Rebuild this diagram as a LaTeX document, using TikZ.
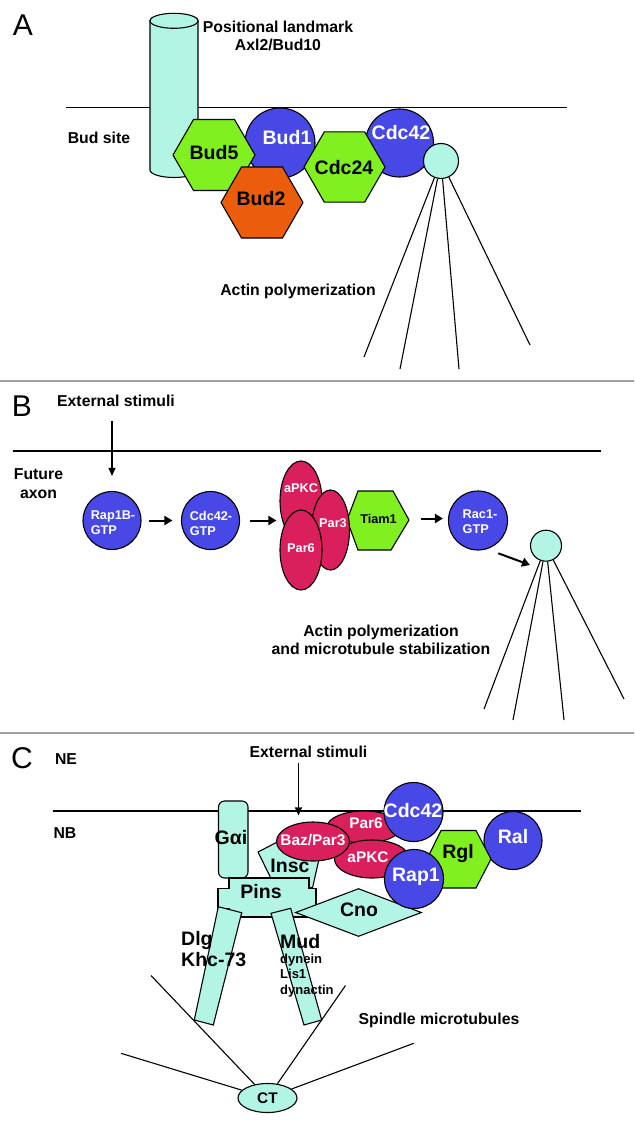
\documentclass[tikz,border=0pt]{standalone}
\usepackage{fontspec}
\setmainfont{Liberation Sans}
\usetikzlibrary{shapes.geometric,arrows.meta}
\definecolor{aqua}{RGB}{178,245,228}
\definecolor{myblue}{RGB}{72,72,230}
\definecolor{mygreen}{RGB}{128,240,32}
\definecolor{myorange}{RGB}{235,92,12}
\definecolor{mycrim}{RGB}{218,32,92}
\definecolor{sepgray}{RGB}{160,160,160}
\newcommand{\fsz}[2]{\fontsize{#1pt}{#2pt}\selectfont}
\begin{document}
\begin{tikzpicture}[x=1pt,y=1pt,
  shp/.style={draw=black, line width=1.1pt},
  bluec/.style={shp, circle, fill=myblue, inner sep=0pt},
  hexa/.style={shp, regular polygon, regular polygon sides=6, inner sep=0pt},
  ell/.style={shp, ellipse, fill=mycrim, inner sep=0pt},
  lab/.style={font=\bfseries\fsz{15.8}{18.3}, align=center, inner sep=0pt},
  big/.style={font=\bfseries\fsz{19.5}{21.5}, inner sep=0pt},
  mid/.style={font=\bfseries\fsz{15.4}{17}, inner sep=0pt},
  sml/.style={font=\bfseries\fsz{12.7}{15}, inner sep=0pt, align=left},
  panel/.style={font=\fsz{30}{30}, inner sep=0pt},
  wt/.style={text=white},
  arr/.style={-{Triangle[length=8pt,width=7pt]}, line width=1.2pt},
  barr/.style={-{Triangle[length=8pt,width=9pt]}, line width=2pt},
  mem/.style={line width=1.2pt},
  sepl/.style={draw=sepgray, line width=1.5pt},
  fil/.style={line width=1.1pt}]
\useasboundingbox (0,0) rectangle (634,-1126);
\fill[white] (0,0) rectangle (634,-1126);

% ================= Panel A =================
\node[panel] (labA) at (23,-25) {A};
\draw[mem] (66,-107.7) -- (567,-107.7);
\draw[shp, fill=aqua] (150,-20.8) -- (150,-170)
   arc[start angle=180, end angle=360, x radius=24pt, y radius=7.5pt]
   -- (198,-20.8) -- cycle;
\draw[shp, fill=aqua] (174,-20.8) ellipse[x radius=24pt, y radius=7.5pt];
\node[lab] (posA) at (278,-36) {Positional landmark\\Axl2/Bud10};
\node[lab] (budsite) at (99,-138) {Bud site};

\node[bluec, minimum size=70pt] (bud1) at (280,-143) {};
\node[bluec, minimum size=68pt] (cdc42a) at (399.5,-143) {};
\node[hexa, fill=mygreen, minimum size=82pt] (bud5) at (214,-155) {};
\node[hexa, fill=myorange, minimum size=82pt] (bud2) at (262,-202.5) {};
\node[hexa, fill=mygreen, minimum size=81pt] (cdc24) at (344.5,-167) {};
\node[shp, circle, fill=aqua, inner sep=0pt, minimum size=35pt] (mtA) at (441,-161) {};

\node[big] (tbud5) at (214,-153) {Bud5};
\node[big, wt] (tbud1) at (287,-138) {Bud1};
\node[big] (tbud2) at (261,-199) {Bud2};
\node[big] (tcdc24) at (344,-168) {Cdc24};
\node[big, wt] (tcdc42a) at (401,-133) {Cdc42};

\coordinate (a1) at (364,-357);
\coordinate (a2) at (400,-369);
\coordinate (a3) at (459,-369);
\coordinate (a4) at (530,-345);
\foreach \p in {a1,a2,a3,a4} \draw[fil] (mtA) -- (\p);
\node[lab] (actA) at (298,-291) {Actin polymerization};

\draw[sepl] (0,-381) -- (634,-381);

% ================= Panel B =================
\node[panel] (labB) at (22,-406) {B};
\node[lab] (extB) at (116,-401) {External stimuli};
\draw[mem] (13,-451) -- (601,-451);
\node[lab] (futB) at (38.5,-483.5) {Future\\axon};

\node[bluec, minimum size=58pt] (rap1b) at (112,-520.5) {};
\node[bluec, minimum size=58pt] (cdc42b) at (210.5,-520.5) {};
\node[bluec, minimum size=59pt] (rac1) at (478,-520.5) {};
\node[sml, wt] (trap1b) at (113,-523) {Rap1B-\\GTP};
\node[sml, wt] (tcdc42b) at (211,-523) {Cdc42-\\GTP};
\node[sml, wt] (trac1) at (480,-522) {Rac1-\\GTP};

\draw[shp, fill=mygreen] (347,-520) -- (358,-491) -- (393,-491) -- (409,-520)
   -- (391,-550) -- (358,-550) -- cycle;
\node[ell, minimum width=42pt, minimum height=80pt] (apkcB) at (301,-501) {};
\node[ell, minimum width=38pt, minimum height=80pt] (par3B) at (330.5,-530) {};
\node[ell, minimum width=42pt, minimum height=80pt] (par6B) at (301,-550) {};
\node[sml, wt] (tapkcB) at (301,-488) {aPKC};
\node[sml, wt] (tpar3B) at (333,-523) {Par3};
\node[sml, wt] (tpar6B) at (301,-548) {Par6};
\node[sml] (tiam1) at (378.5,-518.5) {Tiam1};

\draw[arr] ([yshift=-14pt]extB.south -| rap1b.north) -- ([yshift=15pt]rap1b.north);
\draw[barr, shorten <=7.5pt, shorten >=8.5pt] (rap1b.east) -- (cdc42b.west);
\draw[barr, shorten <=10pt, shorten >=3pt] (cdc42b.east) -- (cdc42b.east -| apkcB.west);
\draw[barr, shorten <=24pt, shorten >=5pt] (tiam1.east) -- (tiam1.east -| rac1.west);

\node[shp, circle, fill=aqua, inner sep=0pt, minimum size=31pt] (mtB) at (546,-545.7) {};
\coordinate (b4s) at (498.3,-553.3);
\coordinate (b4e) at (530,-565);
\draw[barr] (b4s) -- (b4e);
\coordinate (b1) at (484,-709);
\coordinate (b2) at (513,-720);
\coordinate (b3) at (564,-720);
\coordinate (b4) at (624,-699);
\foreach \p in {b1,b2,b3,b4} \draw[fil] (mtB) -- (\p);
\node[lab] (actB) at (381,-640) {Actin polymerization\\and microtubule stabilization};

\draw[sepl] (0,-733) -- (634,-733);

% ================= Panel C =================
\node[panel] (labC) at (22,-758) {C};
\node[lab] (ne) at (66,-759) {NE};
\node[lab] (nb) at (65,-833) {NB};
\node[lab] (extC) at (308.5,-751.7) {External stimuli};
\draw[mem] (53,-811) -- (581,-811);

\draw[shp, fill=aqua, rounded corners=6pt] (218.5,-801) rectangle (248,-878);
\draw[shp, fill=aqua] (270.5,-877.5) -- (258,-852) -- (285,-838) -- (321,-850) -- (312.5,-888) -- cycle;
\draw[shp, fill=aqua] (229,-878) -- (309,-878) -- (309,-888.5) -- (316,-888.5) -- (316,-909)
   -- (309,-909) -- (309,-917) -- (229,-917) -- (229,-909) -- (218,-909) -- (218,-888.5)
   -- (229,-888.5) -- cycle;
\draw[shp, fill=aqua] (218.3,-906.7) -- (241.7,-912.7) -- (213.3,-1025) -- (194.3,-1020) -- cycle;
\draw[shp, fill=aqua] (271,-913.3) -- (290.7,-908.3) -- (321.7,-1020) -- (304,-1025) -- cycle;
\node[shp, diamond, fill=aqua, inner sep=0pt, minimum width=126pt, minimum height=48pt] (cno) at (358.5,-912.5) {};

\node[ell, minimum width=74pt, minimum height=32pt] (par6C) at (364,-827) {};
\node[ell, minimum width=75pt, minimum height=38pt] (apkcC) at (372,-859) {};
\node[ell, minimum width=73pt, minimum height=39pt] (bazC) at (313,-841.5) {};

\node[bluec, minimum size=58pt] (ral) at (513,-840.5) {};
\draw[shp, fill=mygreen] (427,-859) -- (441,-830.5) -- (476,-830.5) -- (491,-859) -- (476,-888) -- (441,-888) -- cycle;
\node[bluec, minimum size=59pt] (cdc42c) at (413.5,-812) {};
\node[bluec, minimum size=59pt] (rap1) at (414,-879) {};

\coordinate (stimC) at (298.5,-762.7);
\draw[arr, shorten >=6pt] (stimC) -- (stimC |- bazC.north);

\node[big] (tgai) at (231,-838) {Gαi};
\node[big] (tinsc) at (290,-866) {Insc};
\node[big] (tpins) at (261,-892) {Pins};
\node[big] (tcno) at (359,-910) {Cno};
\node[mid, wt] (tbaz) at (313,-840) {Baz/Par3};
\node[mid, wt] (tpar6C) at (366,-823) {Par6};
\node[mid, wt] (tapkcC) at (368,-857) {aPKC};
\node[big, wt] (tcdc42c) at (413,-811) {Cdc42};
\node[big, wt] (trap1) at (416,-877) {Rap1};
\node[big, wt] (tral) at (513,-837) {Ral};
\node[big] (trgl) at (458,-853) {Rgl};

\node[big, anchor=west, align=left] (tdlg) at (181,-949) {Dlg\\Khc-73};
\node[big, anchor=west] (tmud) at (280,-942) {Mud};
\node[font=\bfseries\fsz{13}{15.5}, inner sep=0pt, align=left, anchor=west] (tdyn) at (280,-975.5) {dynein\\Lis1\\dynactin};

\node[lab] (spin) at (439,-1020) {Spindle microtubules};

\node[shp, ellipse, fill=aqua, inner sep=0pt, minimum width=59pt, minimum height=29pt] (ct) at (267.5,-1098) {};
\node[mid] (tct) at (267.5,-1098) {CT};
\coordinate (c1) at (121,-1053.3);
\coordinate (c2) at (151,-975.5);
\coordinate (c3) at (345.5,-985.5);
\coordinate (c4) at (413.7,-1043.3);
\foreach \p in {c1,c2,c3,c4} \draw[fil] (ct) -- (\p);
\end{tikzpicture}
\end{document}
